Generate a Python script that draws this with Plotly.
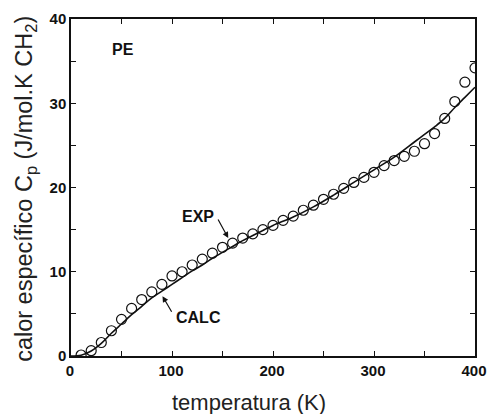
import plotly.graph_objects as go

# EXP data (open circles)
t_exp = [10, 20, 30, 40, 50, 60, 70, 80, 90, 100,
         110, 120, 130, 140, 150, 160, 170, 180, 190, 200,
         210, 220, 230, 240, 250, 260, 270, 280, 290, 300,
         310, 320, 330, 340, 350, 360, 370, 380, 390, 400]
cp_exp = [0.12, 0.63, 1.6, 3.0, 4.35, 5.65, 6.7, 7.6, 8.5, 9.5,
          10.0, 10.8, 11.5, 12.2, 12.9, 13.4, 14.0, 14.5, 15.0, 15.5,
          16.1, 16.6, 17.3, 17.9, 18.6, 19.2, 19.9, 20.6, 21.2, 21.8,
          22.6, 23.2, 23.7, 24.3, 25.2, 26.4, 28.2, 30.2, 32.5, 34.2]

# CALC curve
t_calc = [0, 10, 20, 30, 40, 50, 60, 70, 80, 90, 100, 110, 120, 130, 140,
          150, 160, 170, 180, 190, 200, 220, 240, 260, 280, 300, 320, 340,
          350, 360, 370, 380, 390, 400]
cp_calc = [0.0, 0.1, 0.6, 1.5, 2.7, 3.8, 4.9, 5.9, 6.9, 7.7, 8.5, 9.3, 10.1,
           10.8, 11.6, 12.3, 13.0, 13.7, 14.3, 14.9, 15.5, 16.5, 17.7, 19.1,
           20.6, 22.1, 23.6, 25.4, 26.3, 27.2, 28.2, 29.5, 30.7, 31.9]

x_ticks = [0, 50, 100, 150, 200, 250, 300, 350, 400]
x_labels = ["0", "", "100", "", "200", "", "300", "", "400"]
y_ticks = [0, 5, 10, 15, 20, 25, 30, 35, 40]
y_labels = ["0", "", "10", "", "20", "", "30", "", "40"]

FONT = "Liberation Sans, Arial, Helvetica, sans-serif"
INK = "#111111"

fig = go.Figure()
fig.add_trace(go.Scatter(x=t_calc, y=cp_calc, mode="lines",
                         line=dict(color=INK, width=1.6, shape="spline"),
                         showlegend=False))
fig.add_trace(go.Scatter(x=t_exp, y=cp_exp, mode="markers",
                         marker=dict(symbol="circle-open", size=10,
                                     color=INK, line=dict(width=1.2, color=INK)),
                         showlegend=False))

axis_common = dict(showgrid=False, zeroline=False, showline=True,
                   linecolor=INK, linewidth=1.5, mirror="ticks",
                   ticks="inside", ticklen=5, tickwidth=1.2, tickcolor=INK,
                   ticklabeloverflow="allow", automargin=False,
                   tickfont=dict(family=FONT, size=15, color=INK, weight="bold"))

fig.update_xaxes(range=[0, 400], tickmode="array", tickvals=x_ticks,
                 ticktext=x_labels, ticklabelshift=-1, **axis_common)
fig.update_yaxes(range=[0, 40], tickmode="array", tickvals=y_ticks,
                 ticktext=y_labels, **axis_common)

annotations = [
    dict(text="temperatura (K)", xref="paper", yref="paper", x=0.44, y=-0.139,
         xanchor="center", yanchor="middle", showarrow=False,
         font=dict(family=FONT, size=22, color="#222222")),
    dict(text="calor específico C<sub>p</sub> (J/mol.K CH<sub>2</sub>)",
         xref="paper", yref="paper", x=-0.113, y=0.497, textangle=-90,
         xanchor="center", yanchor="middle", showarrow=False,
         font=dict(family=FONT, size=23.5, color="#222222")),
    dict(text="PE", x=0.128, y=0.91, xref="paper", yref="paper",
         xanchor="center", yanchor="middle", showarrow=False,
         font=dict(family=FONT, size=16, color=INK, weight="bold")),
    dict(text="EXP", x=126, y=16.5, xref="x", yref="y", showarrow=False,
         font=dict(family=FONT, size=16, color=INK, weight="bold")),
    dict(text="CALC", x=126.5, y=4.6, xref="x", yref="y", showarrow=False,
         font=dict(family=FONT, size=16, color=INK, weight="bold")),
    dict(text="", x=155.7, y=14.0, xref="x", yref="y", showarrow=True,
         ax=-11, ay=-20, arrowhead=2, arrowsize=1, arrowwidth=1.2,
         arrowcolor=INK, standoff=0),
    dict(text="", x=90.6, y=7.1, xref="x", yref="y", showarrow=True,
         ax=10, ay=17, arrowhead=2, arrowsize=1, arrowwidth=1.2,
         arrowcolor=INK, standoff=0),
]

fig.update_layout(width=488, height=414,
                  margin=dict(l=71, r=13, t=19, b=58, autoexpand=False),
                  paper_bgcolor="white", plot_bgcolor="white",
                  annotations=annotations)

fig.write_html("out.html", config={"displayModeBar": False},
               post_script="document.body.style.margin='0';"
                           "document.body.style.overflow='hidden';")
